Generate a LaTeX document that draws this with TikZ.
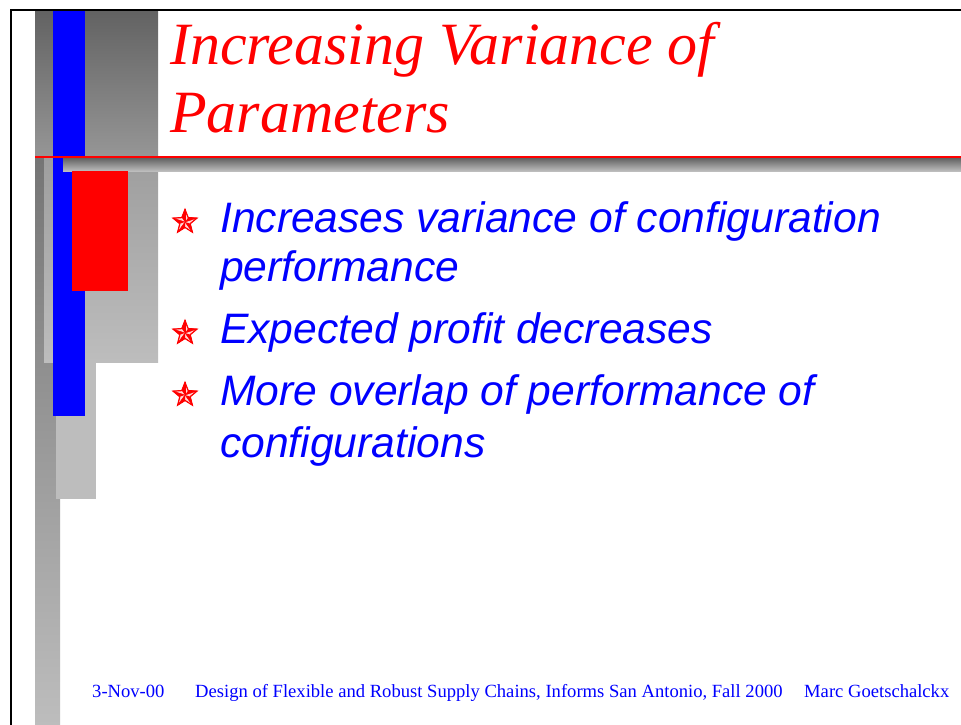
\documentclass[tikz,border=0pt]{standalone}
\usepackage{fontspec}
\setmainfont{Liberation Serif}
\newfontfamily\arialfont{Liberation Sans}
\usetikzlibrary{shapes.geometric}
\definecolor{gA}{RGB}{98,98,98}
\definecolor{gB}{RGB}{150,150,150}
\definecolor{gC}{RGB}{158,158,158}
\definecolor{gL}{RGB}{189,189,189}
\definecolor{pblue}{RGB}{0,0,255}
\definecolor{pred}{RGB}{255,0,0}
\tikzset{
  titletext/.style={inner sep=0pt, anchor=base west, text=pred, font=\fontsize{60}{67}\selectfont\itshape},
  bullettext/.style={inner sep=0pt, anchor=base west, text=pblue, font=\arialfont\fontsize{42.6}{50}\selectfont\itshape},
  foottext/.style={inner sep=0pt, anchor=base west, text=pblue, font=\fontsize{18.6}{22}\selectfont},
  bulletstar/.style={star, star points=5, star point ratio=2.3, minimum size=24pt, inner sep=0pt, draw=pred, line width=0.8pt, fill=pred!15},
}
\begin{document}
\begin{tikzpicture}[x=1pt,y=-1pt]
\useasboundingbox (0,0) rectangle (961,725);
\fill[white] (0,0) rectangle (961,725);
% left decorative columns
\shade[top color=gA, bottom color=gL] (35,10) rectangle (60,725);
\shade[top color=gA, bottom color=gB] (35,10) rectangle (158,157);
\shade[top color=gC, bottom color=gL] (44,157) rectangle (158,362);
\fill[gL] (56,362) rectangle (96,499);
% blue bar
\fill[pblue] (53,10) rectangle (85,416);
% red rule and shaded bar
\shade[top color=gA, bottom color=gL] (63,158) rectangle (961,171);
\draw[pred, line width=1.3pt] (35,157) -- (961,157);
% red block
\fill[pred] (72,171) rectangle (128,291);
% frame
\draw[black, line width=2pt] (11,730) -- (11,10) -- (965,10);
% title
\node[titletext] (t1) at (170,65) {Increasing Variance of};
\node[titletext] (t2) at (170,132) {Parameters};
% bullets
\node[bulletstar] (s1) at (185,222) {};
\node[bulletstar] (s2) at (185,333) {};
\node[bulletstar] (s3) at (185,395) {};
\foreach \s in {s1,s2,s3}{
  \foreach \i in {1,...,5}{
    \fill[pred] (\s.center) -- (\s.outer point \i) -- (\s.inner point \i) -- cycle;
    \draw[pred, line width=0.4pt] (\s.center) -- (\s.outer point \i);
  }
  \draw[pred, line width=0.8pt] (\s.outer point 1) -- (\s.inner point 1) -- (\s.outer point 2) -- (\s.inner point 2) -- (\s.outer point 3) -- (\s.inner point 3) -- (\s.outer point 4) -- (\s.inner point 4) -- (\s.outer point 5) -- (\s.inner point 5) -- cycle;
}
\node[bullettext] (b1a) at (220,232) {Increases variance of configuration};
\node[bullettext] (b1b) at (220,281) {performance};
\node[bullettext] (b2) at (220,343) {Expected profit decreases};
\node[bullettext] (b3a) at (220,405) {More overlap of performance of};
\node[bullettext] (b3b) at (220,457) {configurations};
% footer
\node[foottext] (f1) at (92,697) {3-Nov-00};
\node[foottext] (f2) at (195,697) {Design of Flexible and Robust Supply Chains, Informs San Antonio, Fall 2000};
\node[foottext] (f3) at (804,697) {Marc Goetschalckx};
\end{tikzpicture}
\end{document}
